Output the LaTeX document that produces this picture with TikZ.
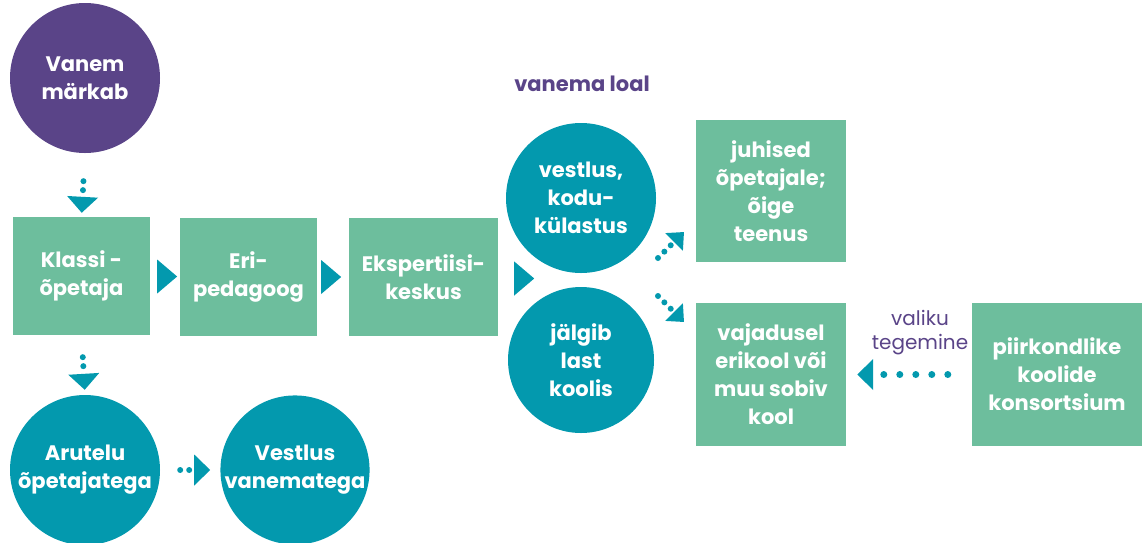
\documentclass[tikz,border=0pt]{standalone}
\usepackage{fontspec}
\setmainfont{Poppins}
\usetikzlibrary{shapes.geometric,arrows.meta}

\definecolor{tealc}{HTML}{0399AE}
\definecolor{greenc}{HTML}{6DBE9D}
\definecolor{purplec}{HTML}{5A4488}

\begin{document}
\begin{tikzpicture}[x=1pt,y=-1pt,
    tri/.style={isosceles triangle, isosceles triangle stretches, fill=tealc,
      inner sep=0pt, minimum width=34pt, minimum height=20pt},
    dotarr/.style={draw=tealc, line width=6pt, line cap=round,
      dash pattern=on 0pt off 9pt, -{Triangle[length=16pt,width=30pt]}}]

        \clip (0,0) rectangle (1142,542);

        \begin{scope}[every node/.style={circle, fill=tealc, text=white, align=center,
            inner sep=0pt, minimum size=150pt, font=\fontsize{21}{28}\selectfont\bfseries}]
          \node[fill=purplec] (vanem) at (85,78) {Vanem\\märkab};
          \node (vestlus) at (581,198) {vestlus,\\kodu-\\külastus};
          \node[minimum size=146pt] (jalgib) at (581,360) {jälgib\\last\\koolis};
          \node (arutelu) at (85,470) {Arutelu\\õpetajatega};
          \node[minimum size=146pt] (vestvan) at (295,470) {Vestlus\\vanematega};
        \end{scope}

        \begin{scope}[every node/.style={rectangle, fill=greenc, text=white, align=center,
            inner sep=0pt, minimum width=137pt, minimum height=118pt,
            font=\fontsize{21}{28}\selectfont\bfseries}]
          \node (klassi)  at (81.5,276) {Klassi -\\õpetaja};
          \node (eri)     at (248.5,277) {Eri-\\pedagoog};
          \node[minimum width=149pt] (ekspert) at (423.5,277) {Ekspertiisi-\\keskus};
          \node[minimum width=150pt, minimum height=142pt] (juhised) at (771,191)
            {juhised\\õpetajale;\\õige\\teenus};
          \node[minimum width=150pt, minimum height=143pt] (vajadusel) at (771,374.5)
            {vajadusel\\erikool või\\muu sobiv\\kool};
          \node[minimum width=170pt, minimum height=143pt] (piirkond) at (1057,374.5)
            {piirkondlike\\koolide\\konsortsium};
        \end{scope}

        % labels
        \node[text=purplec, font=\fontsize{21}{24}\selectfont\bfseries] (loal) at (582,84) {vanema loal};
        \node[text=purplec, align=center, font=\fontsize{20}{24}\selectfont] (valiku) at (920,333) {valiku\\tegemine};

        % big arrows
        \coordinate (split) at (546,280);
        \path (klassi) -- node[tri] {} (eri);
        \path (eri) -- node[tri, xshift=-4pt] {} (ekspert);
        \path (ekspert.east) -- node[tri] {} (split);

        % dotted arrows
        \coordinate (up0) at (658,258);
        \coordinate (up1) at (684,232);
        \coordinate (dn0) at (658,296);
        \coordinate (dn1) at (684,322);
        \draw[dotarr, shorten <=28pt, shorten >=4pt] (vanem.south) -- (klassi.north);
        \draw[dotarr, shorten <=22pt, shorten >=5pt] (klassi.south) -- (arutelu.north);
        \draw[dotarr, shorten <=20pt, shorten >=10pt] (arutelu.east) -- (vestvan.west);
        \draw[dotarr, line width=7pt, dash pattern=on 0pt off 16pt,
          shorten <=24pt, shorten >=11pt] (piirkond.west) -- (vajadusel.east);
        \draw[dotarr, -{Triangle[length=14pt,width=24pt]}] (up0) -- (up1);
        \draw[dotarr, -{Triangle[length=14pt,width=24pt]}] (dn0) -- (dn1);

\end{tikzpicture}
\end{document}
